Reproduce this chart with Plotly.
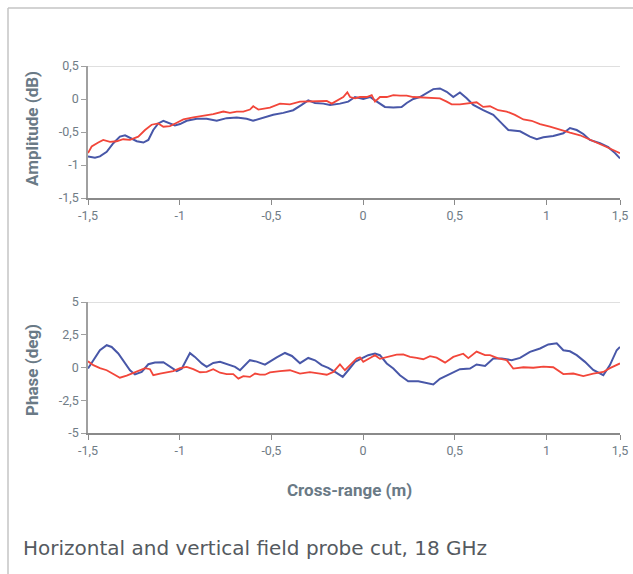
import plotly.graph_objects as go

# ---------------- data ----------------
amp_blue_x = [-1.500, -1.462, -1.435, -1.398, -1.362, -1.326, -1.298, -1.271, -1.234, -1.198, -1.171, -1.144,
              -1.117, -1.089, -1.062, -1.026, -0.998, -0.962, -0.907, -0.853, -0.798, -0.744, -0.689, -0.635,
              -0.600, -0.562, -0.526, -0.490, -0.435, -0.381, -0.335, -0.299, -0.262, -0.217, -0.180, -0.126,
              -0.081, -0.044, 0.001, 0.038, 0.065, 0.119, 0.165, 0.210, 0.238, 0.274, 0.310, 0.347, 0.383,
              0.419, 0.456, 0.492, 0.528, 0.565, 0.601, 0.655, 0.710, 0.756, 0.792, 0.856, 0.910, 0.947,
              0.983, 1.037, 1.092, 1.128, 1.165, 1.201, 1.237, 1.292, 1.337, 1.374, 1.401]
amp_blue_y = [-0.87, -0.89, -0.87, -0.80, -0.67, -0.57, -0.55, -0.59, -0.64, -0.66, -0.62, -0.47,
              -0.37, -0.33, -0.36, -0.40, -0.38, -0.33, -0.30, -0.30, -0.33, -0.29, -0.28, -0.30,
              -0.33, -0.30, -0.27, -0.24, -0.21, -0.17, -0.09, -0.02, -0.06, -0.07, -0.09, -0.07,
              -0.04, 0.03, 0.00, 0.03, -0.02, -0.12, -0.13, -0.12, -0.06, 0.00, 0.03, 0.09, 0.15,
              0.16, 0.11, 0.03, 0.10, 0.01, -0.09, -0.17, -0.24, -0.37, -0.47, -0.49, -0.57, -0.61,
              -0.58, -0.56, -0.52, -0.44, -0.47, -0.53, -0.62, -0.67, -0.73, -0.82, -0.90]

amp_red_x = [-1.500, -1.480, -1.444, -1.417, -1.380, -1.344, -1.308, -1.271, -1.226, -1.189, -1.153, -1.117,
             -1.089, -1.053, -1.016, -0.980, -0.926, -0.871, -0.817, -0.762, -0.726, -0.689, -0.653, -0.617,
             -0.599, -0.571, -0.535, -0.508, -0.453, -0.399, -0.344, -0.290, -0.235, -0.198, -0.171, -0.135,
             -0.108, -0.086, -0.071, -0.044, -0.017, 0.020, 0.047, 0.065, 0.092, 0.129, 0.165, 0.201, 0.238,
             0.274, 0.328, 0.383, 0.419, 0.456, 0.483, 0.528, 0.574, 0.619, 0.655, 0.692, 0.737, 0.783,
             0.828, 0.874, 0.919, 0.965, 1.019, 1.074, 1.128, 1.183, 1.237, 1.292, 1.346, 1.401]
amp_red_y = [-0.82, -0.72, -0.66, -0.62, -0.65, -0.64, -0.61, -0.62, -0.57, -0.47, -0.39, -0.37,
             -0.42, -0.41, -0.36, -0.31, -0.28, -0.26, -0.23, -0.19, -0.21, -0.19, -0.19, -0.16,
             -0.11, -0.16, -0.14, -0.13, -0.07, -0.08, -0.04, -0.04, -0.04, -0.03, -0.07, -0.02,
             0.03, 0.10, 0.03, 0.01, 0.03, 0.03, 0.06, -0.04, 0.03, 0.03, 0.06, 0.05, 0.05,
             0.03, 0.02, 0.02, 0.01, -0.04, -0.08, -0.08, -0.06, -0.05, -0.12, -0.11, -0.17, -0.19,
             -0.24, -0.31, -0.33, -0.38, -0.42, -0.47, -0.51, -0.55, -0.62, -0.68, -0.75, -0.82]

ph_blue_x = [-1.500, -1.471, -1.435, -1.398, -1.371, -1.335, -1.308, -1.271, -1.244, -1.207, -1.171, -1.135,
             -1.089, -1.053, -1.016, -0.989, -0.962, -0.944, -0.917, -0.880, -0.853, -0.817, -0.780, -0.735,
             -0.698, -0.671, -0.644, -0.617, -0.580, -0.535, -0.471, -0.426, -0.388, -0.344, -0.299, -0.262,
             -0.226, -0.190, -0.153, -0.111, -0.081, -0.044, -0.008, 0.028, 0.065, 0.092, 0.129, 0.165,
             0.201, 0.246, 0.301, 0.347, 0.383, 0.419, 0.474, 0.528, 0.583, 0.619, 0.665, 0.710, 0.756,
             0.810, 0.856, 0.910, 0.965, 1.010, 1.056, 1.092, 1.128, 1.165, 1.210, 1.255, 1.310, 1.346,
             1.383, 1.401]
ph_blue_y = [-0.08, 0.56, 1.32, 1.70, 1.57, 1.07, 0.56, -0.21, -0.53, -0.34, 0.25, 0.38,
             0.40, 0.05, -0.28, -0.10, 0.69, 1.10, 0.81, 0.31, 0.05, 0.35, 0.43, 0.20,
             0.05, -0.21, 0.18, 0.56, 0.45, 0.22, 0.78, 1.11, 0.88, 0.33, 0.73, 0.55,
             0.18, -0.03, -0.34, -0.72, -0.21, 0.43, 0.69, 0.94, 1.07, 0.94, 0.31, -0.08,
             -0.59, -1.05, -1.05, -1.18, -1.30, -0.86, -0.48, -0.13, -0.08, 0.23, 0.12, 0.69, 0.69,
             0.56, 0.73, 1.19, 1.45, 1.76, 1.85, 1.32, 1.24, 0.94, 0.43, -0.18, -0.59, 0.18,
             1.32, 1.57]

ph_red_x = [-1.500, -1.471, -1.435, -1.398, -1.362, -1.326, -1.289, -1.253, -1.226, -1.189, -1.162, -1.144,
            -1.107, -1.071, -1.035, -0.998, -0.962, -0.926, -0.889, -0.853, -0.817, -0.780, -0.744, -0.708,
            -0.680, -0.653, -0.617, -0.589, -0.562, -0.535, -0.508, -0.453, -0.399, -0.344, -0.290, -0.235,
            -0.198, -0.162, -0.126, -0.099, -0.071, -0.035, -0.017, 0.001, 0.038, 0.065, 0.092, 0.129,
            0.183, 0.219, 0.256, 0.292, 0.328, 0.365, 0.401, 0.447, 0.492, 0.546, 0.574, 0.619, 0.665,
            0.692, 0.737, 0.783, 0.819, 0.874, 0.928, 0.983, 1.037, 1.092, 1.146, 1.201, 1.255, 1.310,
            1.346, 1.401]
ph_red_y = [0.47, 0.18, -0.05, -0.21, -0.50, -0.78, -0.62, -0.42, -0.21, -0.05, -0.13, -0.59,
            -0.46, -0.36, -0.28, -0.05, 0.05, -0.13, -0.36, -0.34, -0.13, -0.40, -0.51, -0.50,
            -0.85, -0.66, -0.72, -0.46, -0.55, -0.55, -0.38, -0.27, -0.21, -0.47, -0.36, -0.46,
            -0.55, -0.34, 0.23, -0.21, 0.18, 0.69, 0.78, 0.43, 0.72, 0.94, 0.66, 0.81,
            0.99, 1.00, 0.81, 0.73, 0.63, 0.86, 0.75, 0.37, 0.81, 1.05, 0.71, 1.21, 0.94,
            0.94, 0.69, 0.56, -0.08, 0.02, -0.02, 0.06, 0.02, -0.50, -0.46, -0.65, -0.46, -0.34,
            -0.05, 0.31]

x_tickvals = [-1.5, -1.0, -0.5, 0.0, 0.5, 1.0, 1.401]
x_ticktext = ["-1,5", "-1", "-0,5", "0", "0,5", "1", "1,5"]
amp_tickvals = [0.5, 0.0, -0.5, -1.0, -1.5]
amp_ticktext = ["0,5", "0", "-0,5", "-1", "-1,5"]
ph_tickvals = [5, 2.5, 0, -2.5, -5]
ph_ticktext = ["5", "2,5", "0", "-2,5", "-5"]

BLUE = "#4857a8"
RED = "#f2463a"
TXT = "#6a7a86"
W, H = 633, 574

fig = go.Figure()
fig.add_trace(go.Scatter(x=amp_blue_x, y=amp_blue_y, mode="lines", line=dict(color=BLUE, width=2),
                         xaxis="x", yaxis="y", showlegend=False))
fig.add_trace(go.Scatter(x=amp_red_x, y=amp_red_y, mode="lines", line=dict(color=RED, width=1.8),
                         xaxis="x", yaxis="y", showlegend=False))
fig.add_trace(go.Scatter(x=ph_blue_x, y=ph_blue_y, mode="lines", line=dict(color=BLUE, width=2),
                         xaxis="x2", yaxis="y2", showlegend=False))
fig.add_trace(go.Scatter(x=ph_red_x, y=ph_red_y, mode="lines", line=dict(color=RED, width=1.8),
                         xaxis="x2", yaxis="y2", showlegend=False))

xd = [88 / W, 620 / W]
tickfont = dict(family="Roboto, sans-serif", size=12.5, color="#707c86")
xcommon = dict(range=[-1.5, 1.401], domain=xd, tickvals=x_tickvals, ticktext=x_ticktext,
               showgrid=False, zeroline=False, showline=True, linecolor="#8a8a8a", linewidth=1.5,
               ticks="outside", ticklen=5, tickcolor="#8a8a8a", tickfont=tickfont, automargin=False)
ycommon = dict(showgrid=False, zeroline=False, showline=True, linecolor="#a0a0a0", linewidth=1.5,
               ticks="outside", ticklen=5, tickcolor="#a0a0a0", tickfont=tickfont, automargin=False)

title_font = dict(family="Roboto, sans-serif", size=17, color=TXT)

fig.update_layout(
    width=W, height=H, margin=dict(l=0, r=0, t=0, b=0, autoexpand=False),
    paper_bgcolor="white", plot_bgcolor="white",
    xaxis=dict(**xcommon, anchor="y"),
    yaxis=dict(**ycommon, range=[-1.5, 0.5], tickvals=amp_tickvals, ticktext=amp_ticktext,
               domain=[(H - 198) / H, (H - 66) / H], anchor="x"),
    xaxis2=dict(**xcommon, anchor="y2"),
    yaxis2=dict(**ycommon, range=[-5, 5], tickvals=ph_tickvals, ticktext=ph_ticktext,
                domain=[(H - 433) / H, (H - 302) / H], anchor="x2"),
    shapes=[
        dict(type="line", xref="x domain", yref="y", x0=0, x1=1, y0=0.5, y1=0.5,
             line=dict(color="#d4d4d4", width=1.5)),
        dict(type="line", xref="x2 domain", yref="y2", x0=0, x1=1, y0=5, y1=5,
             line=dict(color="#d4d4d4", width=1.5)),
        dict(type="line", xref="paper", yref="paper", x0=8 / W, x1=1, y0=1 - 8 / H, y1=1 - 8 / H,
             line=dict(color="#c4c4c4", width=1.5)),
        dict(type="line", xref="paper", yref="paper", x0=8 / W, x1=8 / W, y0=0, y1=1 - 8 / H,
             line=dict(color="#c4c4c4", width=1.5)),
    ],
    annotations=[
        dict(text="<b>Amplitude (dB)</b>", xref="paper", yref="paper", x=32 / W, y=1 - 129 / H,
             xanchor="center", yanchor="middle", textangle=-90, showarrow=False, font=title_font),
        dict(text="<b>Phase (deg)</b>", xref="paper", yref="paper", x=32 / W, y=1 - 370 / H,
             xanchor="center", yanchor="middle", textangle=-90, showarrow=False, font=title_font),
        dict(text="<b>Cross-range (m)</b>", xref="paper", yref="paper", x=349 / W, y=1 - 490 / H,
             xanchor="center", yanchor="middle", showarrow=False, font=title_font),
        dict(text="Horizontal and vertical field probe cut, 18 GHz", xref="paper", yref="paper",
             x=21 / W, y=1 - 548 / H, xanchor="left", yanchor="middle", showarrow=False,
             font=dict(family="DejaVu Sans, sans-serif", size=20, color="#555a60")),
    ],
)

fig.write_html("out.html", config={"displayModeBar": False},
               post_script="document.body.style.margin='0';document.body.style.overflow='hidden';")
